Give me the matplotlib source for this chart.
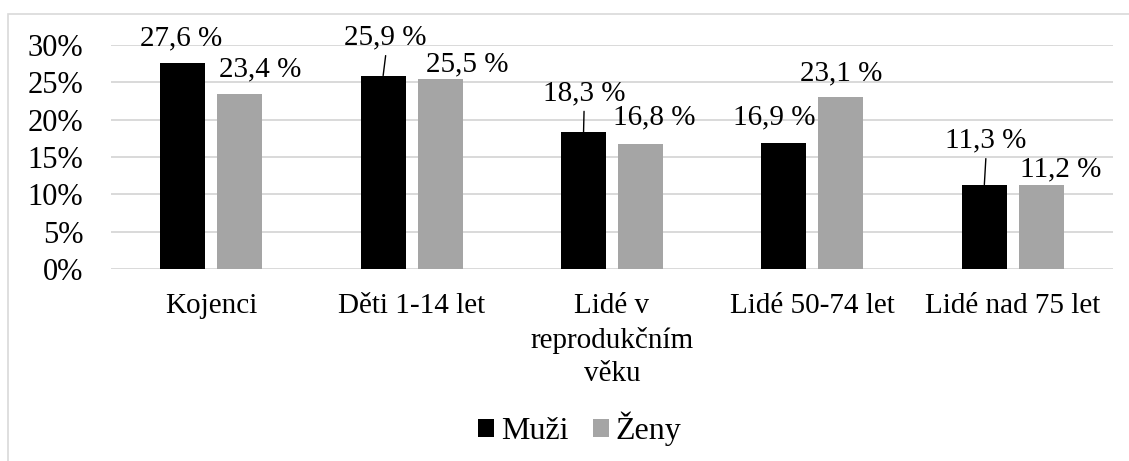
import matplotlib
matplotlib.use("Agg")
import matplotlib.pyplot as plt
import numpy as np
from matplotlib.patches import Rectangle

# ---- data ----
categories = ["Kojenci", "Děti 1-14 let", "Lidé v\nreprodukčním\nvěku",
              "Lidé 50-74 let", "Lidé nad 75 let"]
muzi = [27.6, 25.9, 18.3, 16.9, 11.3]
zeny = [23.4, 25.5, 16.8, 23.1, 11.2]
series_names = ["Muži", "Ženy"]
yticks = [0, 5, 10, 15, 20, 25, 30]

# ---- layout / style (label offsets in pixels: dx, dy above bar top, leader) ----
muzi_lbl = [(-1.5, 18, False), (2.5, 31, True), (0.5, 32, True), (-9.5, 18, False), (1.5, 37, True)]
zeny_lbl = [(21, 18, False), (27.5, 7, False), (13.5, 19, False), (0, 16.5, False), (19.5, 8.5, False)]

plt.rcParams['font.family'] = ['Liberation Serif', 'DejaVu Serif']
FS = 21
FS_TICK = 22
FS_LEG = 23
W, H = 1129, 461
fig = plt.figure(figsize=(W / 100, H / 100), dpi=100)

# chart area border (cropped on right/bottom)
fig.patches.append(Rectangle((8 / W, 1 - 1000 / H), 2000 / W, (1000 - 14) / H,
                             transform=fig.transFigure, fill=False,
                             edgecolor="#d9d9d9", lw=1.2))

ax = fig.add_axes([111 / W, 1 - 269 / H, (1113 - 111) / W, (269 - 45) / H])
x = np.arange(len(categories))
bw = 0.2245
off = 0.142
c_m, c_z = "#000000", "#a5a5a5"
ax.bar(x - off, muzi, bw, color=c_m, label=series_names[0], zorder=3)
ax.bar(x + off, zeny, bw, color=c_z, label=series_names[1], zorder=3)

ax.set_xlim(-0.5, len(categories) - 0.5)
ax.set_ylim(0, 30)
ax.set_yticks(yticks)
ax.set_yticklabels([f"{t}%" for t in yticks], fontsize=FS_TICK)
ax.yaxis.grid(True, color="#d9d9d9", lw=1.4, zorder=0)
ax.set_axisbelow(True)
for s in ax.spines.values():
    s.set_visible(False)
ax.tick_params(axis="both", length=0)
ax.tick_params(axis="y", pad=20)
ax.set_xticks(x)
ax.set_xticklabels(categories, fontsize=FS, linespacing=1.36)
ax.tick_params(axis="x", pad=17.5)


def fmt(v):
    return f"{v:.1f}".replace(".", ",") + " %"


def label(xpos, v, spec):
    dx, dy, leader = spec
    ax.annotate(fmt(v), xy=(xpos, v), xytext=(dx, dy), textcoords="offset pixels",
                ha="center", va="baseline", fontsize=FS, zorder=5)
    if leader:
        ax.annotate("", xy=(xpos, v), xytext=(dx, dy - 11), textcoords="offset pixels",
                    arrowprops=dict(arrowstyle="-", color="black", lw=1.0,
                                    shrinkA=0, shrinkB=0), zorder=5)


for i in range(len(categories)):
    label(x[i] - off, muzi[i], muzi_lbl[i])
    label(x[i] + off, zeny[i], zeny_lbl[i])

fig.legend(loc="center", bbox_to_anchor=(580 / W, 1 - 429 / H), ncol=2, frameon=False,
           fontsize=FS_LEG, handlelength=0.5, handleheight=0.5, handletextpad=0.22,
           columnspacing=0.75, borderpad=0)

fig.savefig("out.png", dpi=100)
